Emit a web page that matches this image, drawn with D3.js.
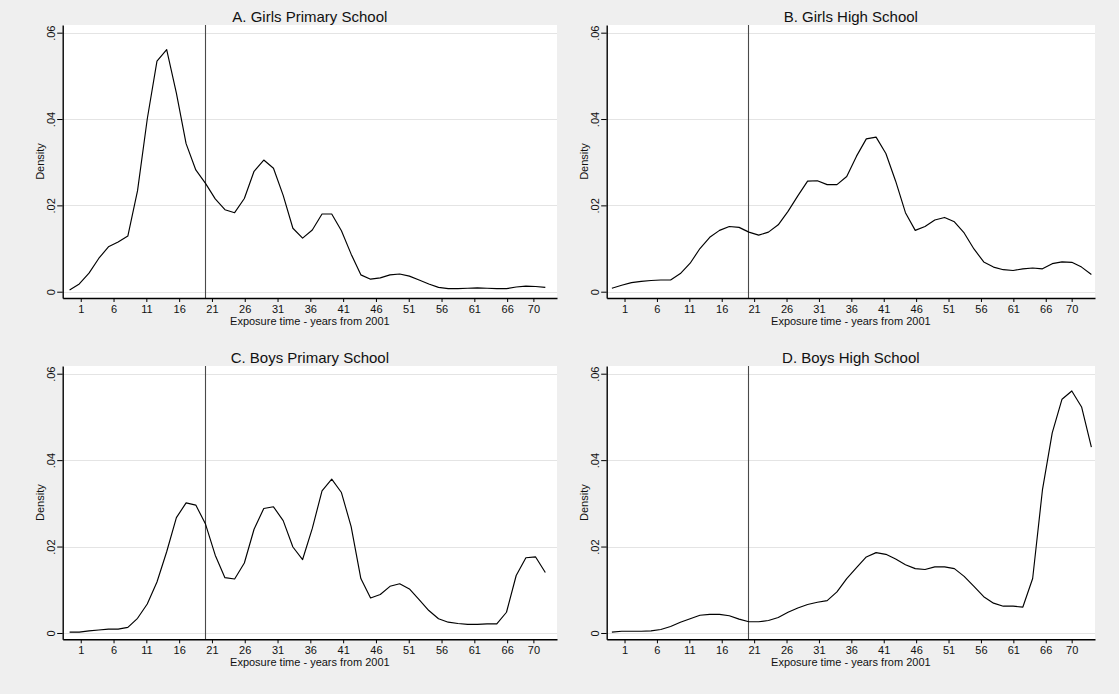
<!DOCTYPE html>
<html>
<head>
<meta charset="utf-8">
<script src="https://cdn.jsdelivr.net/npm/d3@7"></script>
<style>
  html, body { margin: 0; padding: 0; background: #efefef; }
  svg { display: block; }
  text { font-family: "Liberation Sans", Arial, sans-serif; fill: #111; }
</style>
</head>
<body>
<svg id="chart" width="1119" height="694"></svg>
<script>
// Kernel density evaluation points (left column: A, C; right column: B, D)
const gridLeft = [-0.7, 0.78, 2.26, 3.74, 5.22, 6.7, 8.18, 9.66, 11.14, 12.62,
  14.1, 15.58, 17.06, 18.54, 20.02, 21.5, 22.98, 24.46, 25.94, 27.42,
  28.9, 30.38, 31.86, 33.34, 34.82, 36.3, 37.78, 39.26, 40.74, 42.22,
  43.7, 45.18, 46.66, 48.14, 49.62, 51.1, 52.58, 54.06, 55.54, 57.02,
  58.5, 59.98, 61.46, 62.94, 64.42, 65.9, 67.38, 68.86, 70.34, 71.82];
const gridRight = [-0.95, 0.56, 2.07, 3.58, 5.09, 6.6, 8.11, 9.62, 11.13, 12.64,
  14.15, 15.66, 17.17, 18.68, 20.19, 21.7, 23.21, 24.72, 26.23, 27.74,
  29.25, 30.76, 32.27, 33.78, 35.29, 36.8, 38.31, 39.82, 41.33, 42.84,
  44.35, 45.86, 47.37, 48.88, 50.39, 51.9, 53.41, 54.92, 56.43, 57.94,
  59.45, 60.96, 62.47, 63.98, 65.49, 67.0, 68.51, 70.02, 71.53, 73.04];

// Estimated densities
const girlsPrimary = [0.0004, 0.0018, 0.0043, 0.0077, 0.0104, 0.0115, 0.0129, 0.0234, 0.0400, 0.0534,
  0.0561, 0.0460, 0.0343, 0.0282, 0.0251, 0.0215, 0.0190, 0.0183, 0.0216, 0.0279,
  0.0305, 0.0286, 0.0223, 0.0147, 0.0124, 0.0143, 0.0180, 0.0180, 0.0141, 0.0087,
  0.0039, 0.0029, 0.0032, 0.0039, 0.0041, 0.0036, 0.0027, 0.0018, 0.0010, 0.0007,
  0.0007, 0.0008, 0.0009, 0.0008, 0.0007, 0.0007, 0.0011, 0.0013, 0.0012, 0.0010];
const girlsHigh = [0.0008, 0.0015, 0.0021, 0.0024, 0.0026, 0.0027, 0.0027, 0.0042, 0.0066, 0.0100,
  0.0126, 0.0142, 0.0151, 0.0149, 0.0138, 0.0131, 0.0138, 0.0155, 0.0186, 0.0222,
  0.0256, 0.0257, 0.0248, 0.0248, 0.0267, 0.0314, 0.0354, 0.0358, 0.0320, 0.0256,
  0.0183, 0.0142, 0.0151, 0.0166, 0.0172, 0.0162, 0.0136, 0.0099, 0.0069, 0.0057,
  0.0051, 0.0049, 0.0053, 0.0055, 0.0053, 0.0065, 0.0069, 0.0068, 0.0057, 0.0040];
const boysPrimary = [0.0002, 0.0002, 0.0005, 0.0007, 0.0009, 0.0009, 0.0013, 0.0034, 0.0067, 0.0118,
  0.0188, 0.0267, 0.0301, 0.0296, 0.0252, 0.0180, 0.0128, 0.0125, 0.0162, 0.0240,
  0.0288, 0.0292, 0.0260, 0.0199, 0.0170, 0.0242, 0.0329, 0.0356, 0.0325, 0.0246,
  0.0126, 0.0081, 0.0089, 0.0108, 0.0114, 0.0102, 0.0077, 0.0052, 0.0033, 0.0025,
  0.0022, 0.0020, 0.0020, 0.0021, 0.0021, 0.0048, 0.0133, 0.0174, 0.0176, 0.0140];
const boysHigh = [0.0002, 0.0004, 0.0004, 0.0004, 0.0005, 0.0008, 0.0015, 0.0025, 0.0033, 0.0041,
  0.0043, 0.0043, 0.0040, 0.0032, 0.0026, 0.0026, 0.0029, 0.0036, 0.0048, 0.0058,
  0.0066, 0.0071, 0.0075, 0.0095, 0.0126, 0.0151, 0.0176, 0.0186, 0.0182, 0.0171,
  0.0158, 0.0149, 0.0147, 0.0153, 0.0153, 0.0149, 0.0131, 0.0108, 0.0084, 0.0069,
  0.0062, 0.0062, 0.0060, 0.0126, 0.0331, 0.0463, 0.0541, 0.0560, 0.0523, 0.0430];

const panelTitles = ["A. Girls Primary School", "B. Girls High School",
                     "C. Boys Primary School", "D. Boys High School"];
const xTicks = [1, 6, 11, 16, 21, 26, 31, 36, 41, 46, 51, 56, 61, 66, 70];
const yTicks = [0, 0.02, 0.04, 0.06];
const yTickLabels = ["0", ".02", ".04", ".06"];
const cutoffYear = 20;
const xTitle = "Exposure time - years from 2001";
const yTitle = "Density";

const panels = [
  { title: panelTitles[0], x: gridLeft,  y: girlsPrimary, col: 0, row: 0 },
  { title: panelTitles[1], x: gridRight, y: girlsHigh,    col: 1, row: 0 },
  { title: panelTitles[2], x: gridLeft,  y: boysPrimary,  col: 0, row: 1 },
  { title: panelTitles[3], x: gridRight, y: boysHigh,     col: 1, row: 1 }
];

// Plot region geometry
const colX = [[62.7, 557], [606.7, 1095]];
const rowY = [[25, 298], [366, 639.3]];
const xDomain = [-1.75, 73.6];
const yDomain = [-0.00146, 0.06178];

const svg = d3.select("#chart");
svg.append("rect").attr("width", 1119).attr("height", 694).attr("fill", "#efefef");

panels.forEach(p => {
  const [x0, x1] = colX[p.col];
  const [y0, y1] = rowY[p.row];
  const xs = d3.scaleLinear().domain(xDomain).range([x0, x1]);
  const ys = d3.scaleLinear().domain(yDomain).range([y1, y0]);
  const g = svg.append("g");

  // plot area
  g.append("rect").attr("x", x0).attr("y", y0)
    .attr("width", x1 - x0).attr("height", y1 - y0).attr("fill", "#ffffff");

  // horizontal grid
  g.selectAll("line.grid").data(yTicks).join("line")
    .attr("class", "grid")
    .attr("x1", x0).attr("x2", x1)
    .attr("y1", d => Math.round(ys(d)) + 0.5).attr("y2", d => Math.round(ys(d)) + 0.5)
    .attr("stroke", "#e4e4e4").attr("stroke-width", 1);

  // reference line
  g.append("line")
    .attr("x1", Math.round(xs(cutoffYear)) + 0.5).attr("x2", Math.round(xs(cutoffYear)) + 0.5)
    .attr("y1", y0).attr("y2", y1)
    .attr("stroke", "#4a4a4a").attr("stroke-width", 1.1);

  // density curve
  const pts = p.x.map((v, i) => [v, p.y[i]]);
  g.append("path").datum(pts)
    .attr("fill", "none").attr("stroke", "#000").attr("stroke-width", 1.15)
    .attr("stroke-linejoin", "round")
    .attr("d", d3.line().x(d => xs(d[0])).y(d => ys(d[1])));

  // x axis
  const xAxis = g.append("g").attr("transform", `translate(0,${y1})`)
    .call(d3.axisBottom(xs).tickValues(xTicks).tickFormat(d3.format("d"))
      .tickSizeInner(4).tickSizeOuter(0).tickPadding(3));
  xAxis.select(".domain").attr("stroke", "#000").attr("stroke-width", 1.4);
  xAxis.selectAll(".tick line").attr("stroke", "#000");
  xAxis.selectAll("text").attr("font-size", 11)
    .attr("font-family", "Liberation Sans, Arial, sans-serif").attr("fill", "#111");

  // y axis
  const yAxis = g.append("g").attr("transform", `translate(${x0},0)`)
    .call(d3.axisLeft(ys).tickValues(yTicks).tickFormat((d, i) => yTickLabels[i])
      .tickSizeInner(5.5).tickSizeOuter(0));
  yAxis.select(".domain").attr("stroke", "#000").attr("stroke-width", 1.4);
  yAxis.selectAll(".tick line").attr("stroke", "#000");
  yAxis.selectAll("text")
    .attr("x", null).attr("dy", null)
    .attr("transform", "translate(-7.5,0) rotate(-90)")
    .attr("text-anchor", "middle")
    .attr("font-size", 11)
    .attr("font-family", "Liberation Sans, Arial, sans-serif").attr("fill", "#111");

  // titles
  const cx = (x0 + x1) / 2;
  g.append("text").attr("x", cx).attr("y", y0 - 3.5)
    .attr("text-anchor", "middle").attr("font-size", 15).text(p.title);
  g.append("text").attr("x", cx).attr("y", y1 + 27)
    .attr("text-anchor", "middle").attr("font-size", 11).text(xTitle);
  g.append("text")
    .attr("transform", `translate(${x0 - 19},${(y0 + y1) / 2}) rotate(-90)`)
    .attr("text-anchor", "middle").attr("font-size", 11).text(yTitle);
});
</script>
</body>
</html>
